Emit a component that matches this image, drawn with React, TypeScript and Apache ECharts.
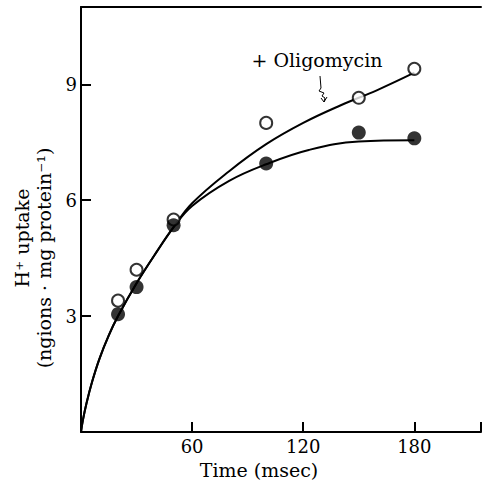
import React, { useEffect, useRef } from "react";
import * as echarts from "echarts";

// Measured points
const controlX = [20, 30, 50, 100, 150, 180];
const controlY = [3.05, 3.75, 5.35, 6.95, 7.75, 7.6];
const oligoX = [20, 30, 50, 100, 150, 180];
const oligoY = [3.4, 4.2, 5.5, 8.0, 8.65, 9.4];

// Fitted curves
const controlCurveX = [0, 1, 3, 6, 10, 15, 20, 30, 40, 50, 60, 80, 100, 123, 150, 180];
const controlCurveY = [0, 0.3, 0.75, 1.3, 1.9, 2.5, 3.0, 3.85, 4.6, 5.3, 5.85, 6.5, 6.93, 7.3, 7.52, 7.55];
const oligoCurveX = [0, 1, 3, 6, 10, 15, 20, 30, 40, 50, 60, 80, 100, 120, 140, 160, 180];
const oligoCurveY = [0, 0.3, 0.75, 1.3, 1.9, 2.5, 3.0, 3.85, 4.6, 5.3, 5.92, 6.75, 7.45, 8.0, 8.45, 8.85, 9.3];

const xTicks = [60, 120, 180];
const yTicks = [3, 6, 9];

const FONT = "DejaVu Serif";

export default function App() {
  const ref = useRef<HTMLDivElement>(null);
  useEffect(() => {
    if (!ref.current) return;
    const chart = echarts.init(ref.current, null, { renderer: "svg" });
    const zip = (xs: number[], ys: number[]) => xs.map((x, i) => [x, ys[i]]);
    chart.setOption({
      animation: false,
      backgroundColor: "#fff",
      grid: { left: 81, right: 0, top: 7, bottom: 54 },
      xAxis: [
        {
          type: "value",
          min: 0,
          max: 216,
          interval: 60,
          splitLine: { show: false },
          axisLine: { lineStyle: { color: "#000", width: 2 } },
          axisTick: { inside: true, length: 10, lineStyle: { color: "#000", width: 2 } },
          axisLabel: {
            color: "#000",
            fontFamily: FONT,
            fontSize: 18,
            margin: 5,
            formatter: (v: number) => (xTicks.includes(v) ? String(v) : ""),
          },
        },
        {
          type: "value",
          position: "top",
          min: 0,
          max: 216,
          splitLine: { show: false },
          axisLine: { show: true, lineStyle: { color: "#000", width: 2 } },
          axisTick: { show: false },
          axisLabel: { show: false },
        },
      ],
      yAxis: {
        type: "value",
        min: 0,
        max: 11,
        interval: 3,
        splitLine: { show: false },
        axisLine: { show: true, lineStyle: { color: "#000", width: 2 } },
        axisTick: { inside: true, length: 10, lineStyle: { color: "#000", width: 2 } },
        axisLabel: {
          color: "#000",
          fontFamily: FONT,
          fontSize: 18,
          margin: 4,
          formatter: (v: number) => (yTicks.includes(v) ? String(v) : ""),
        },
      },
      series: [
        {
          type: "line",
          data: zip(controlCurveX, controlCurveY),
          smooth: 0.4,
          showSymbol: false,
          lineStyle: { color: "#000", width: 2 },
          z: 2,
        },
        {
          type: "line",
          data: zip(oligoCurveX, oligoCurveY),
          smooth: 0.4,
          showSymbol: false,
          lineStyle: { color: "#000", width: 2 },
          z: 2,
        },
        {
          type: "scatter",
          data: zip(oligoX, oligoY),
          symbol: "circle",
          symbolSize: 12,
          itemStyle: { color: "#fff", borderColor: "#000", borderWidth: 2 },
          z: 3,
        },
        {
          type: "scatter",
          data: zip(controlX, controlY),
          symbol: "circle",
          symbolSize: 14,
          itemStyle: { color: "#000" },
          z: 4,
        },
      ],
      graphic: [
        {
          type: "text",
          x: 317,
          y: 60,
          style: {
            text: "+ Oligomycin",
            fontFamily: FONT,
            fontSize: 19,
            fill: "#000",
            align: "center",
            verticalAlign: "middle",
          },
        },
        {
          type: "polyline",
          shape: {
            points: [
              [320, 76],
              [321, 88],
              [319, 91],
              [324, 93],
              [322, 96],
              [325, 98],
              [324, 102],
            ],
          },
          style: { stroke: "#000", lineWidth: 1, fill: "none" },
        },
        {
          type: "polyline",
          shape: { points: [[321, 98], [324, 102], [327, 97]] },
          style: { stroke: "#000", lineWidth: 1, fill: "none" },
        },
        {
          type: "text",
          x: 259,
          y: 470,
          style: {
            text: "Time (msec)",
            fontFamily: FONT,
            fontSize: 19,
            fill: "#000",
            align: "center",
            verticalAlign: "middle",
          },
        },
        {
          type: "text",
          x: 22,
          y: 238,
          rotation: Math.PI / 2,
          style: {
            text: "H\u207A uptake",
            fontFamily: FONT,
            fontSize: 19,
            fill: "#000",
            align: "center",
            verticalAlign: "middle",
          },
        },
        {
          type: "text",
          x: 44,
          y: 258,
          rotation: Math.PI / 2,
          style: {
            text: "(ngions \u00B7 mg protein\u207B\u00B9)",
            fontFamily: FONT,
            fontSize: 19,
            fill: "#000",
            align: "center",
            verticalAlign: "middle",
          },
        },
      ],
    });
    return () => chart.dispose();
  }, []);
  return (
    <div
      ref={ref}
      style={{ position: "fixed", left: 0, top: 0, width: 484, height: 486 }}
    />
  );
}
